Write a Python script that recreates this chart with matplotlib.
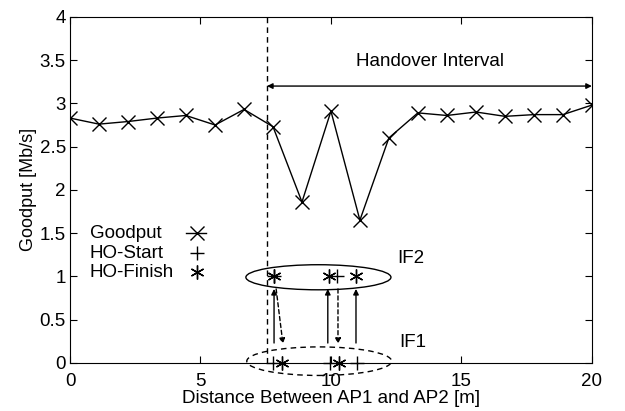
import matplotlib.pyplot as plt
from matplotlib.patches import Ellipse
import numpy as np

plt.rcParams['font.family'] = ['Liberation Sans', 'DejaVu Sans']

# goodput samples along the path
dist = [0, 1.11, 2.22, 3.33, 4.44, 5.56, 6.67, 7.78, 8.89, 10.0,
        11.11, 12.22, 13.33, 14.44, 15.56, 16.67, 17.78, 18.89, 20.0]
goodput = [2.83, 2.76, 2.79, 2.83, 2.86, 2.75, 2.93, 2.73, 1.86, 2.91,
           1.65, 2.60, 2.89, 2.86, 2.90, 2.85, 2.87, 2.87, 2.98]

# handover events on both interfaces
if2_start_x = [7.82, 10.23]
if2_finish_x = [7.82, 9.92, 10.96]
if1_start_x = [7.77, 9.96, 11.0]
if1_finish_x = [8.12, 10.3]

# arrows between interfaces (x_from, x_to)
up_arrows = [(7.82, 7.82), (9.88, 9.88), (10.96, 10.96)]
down_arrows = [(7.9, 8.16), (10.27, 10.27)]

ho_start = 7.55
FS = 13.5

fig = plt.figure(figsize=(6.25, 4.11), dpi=100)
ax = fig.add_axes([0.112, 0.117, 0.835, 0.842])

ax.plot(dist, goodput, color='black', lw=1, marker='x', ms=10, mew=1)
ax.plot(if2_start_x, [1] * len(if2_start_x), ls='none', marker='+', ms=10, mew=1,
        color='black')
ax.plot(if2_finish_x, [1] * len(if2_finish_x), ls='none', marker=(6, 2, 0), ms=10, mew=1,
        color='black')
ax.plot(if1_start_x, [0] * len(if1_start_x), ls='none', marker='+', ms=10, mew=1,
        color='black', clip_on=False)
ax.plot(if1_finish_x, [0] * len(if1_finish_x), ls='none', marker=(6, 2, 0), ms=10, mew=1,
        color='black', clip_on=False)

for x0, x1 in up_arrows:
    ax.annotate('', xy=(x1, 0.855), xytext=(x0, 0.23),
                arrowprops=dict(arrowstyle='-|>', color='black', lw=1,
                                mutation_scale=8, shrinkA=0, shrinkB=0))
for x0, x1 in down_arrows:
    ax.annotate('', xy=(x1, 0.22), xytext=(x0, 0.855),
                arrowprops=dict(arrowstyle='-|>', color='black', lw=1, ls=(0, (3, 2)),
                                mutation_scale=8, shrinkA=0, shrinkB=0))

ax.add_patch(Ellipse((9.52, 0.99), 5.56, 0.29, fill=False, ec='black', lw=1))
ax.add_patch(Ellipse((9.55, 0.02), 5.55, 0.33, fill=False, ec='black', lw=1,
                     ls=(0, (4, 3)), clip_on=False))
ax.text(12.55, 1.21, 'IF2', fontsize=FS, va='center')
ax.text(12.6, 0.24, 'IF1', fontsize=FS, va='center')

ax.axvline(ho_start, color='black', lw=1, ls=(0, (4, 3)))
ax.annotate('', xy=(20, 3.2), xytext=(ho_start, 3.2),
            arrowprops=dict(arrowstyle='<|-|>', color='black', lw=1,
                            mutation_scale=8, shrinkA=0, shrinkB=0))
ax.text(13.8, 3.48, 'Handover Interval', fontsize=FS, ha='center', va='center')

# key, gnuplot style: label left, sample right
key_labels = ['Goodput', 'HO-Start', 'HO-Finish']
key_y = [1.5, 1.27, 1.05]
key_marks = ['x', '+', (6, 2, 0)]
for lab, yk, mk in zip(key_labels, key_y, key_marks):
    ax.text(0.75, yk, lab, fontsize=FS, va='center', ha='left')
    ls = '-' if lab == 'Goodput' else 'none'
    ax.plot([4.45, 4.87, 5.2], [yk, yk, yk], color='black', lw=1, ls=ls,
            marker=mk, ms=10, mew=1, markevery=[1])

ax.set_xlim(0, 20)
ax.set_ylim(0, 4)
ax.set_xticks([0, 5, 10, 15, 20])
ax.set_yticks(np.arange(0, 4.01, 0.5))
ax.set_yticklabels(['0', '0.5', '1', '1.5', '2', '2.5', '3', '3.5', '4'])
ax.tick_params(direction='in', top=True, right=True, labelsize=FS, length=5, pad=3)
ax.tick_params(axis='x', pad=7)
ax.set_xlabel('Distance Between AP1 and AP2 [m]', fontsize=FS, labelpad=0.5)
ax.set_ylabel('Goodput [Mb/s]', fontsize=13, labelpad=2)

fig.savefig('out.png', dpi=100)
